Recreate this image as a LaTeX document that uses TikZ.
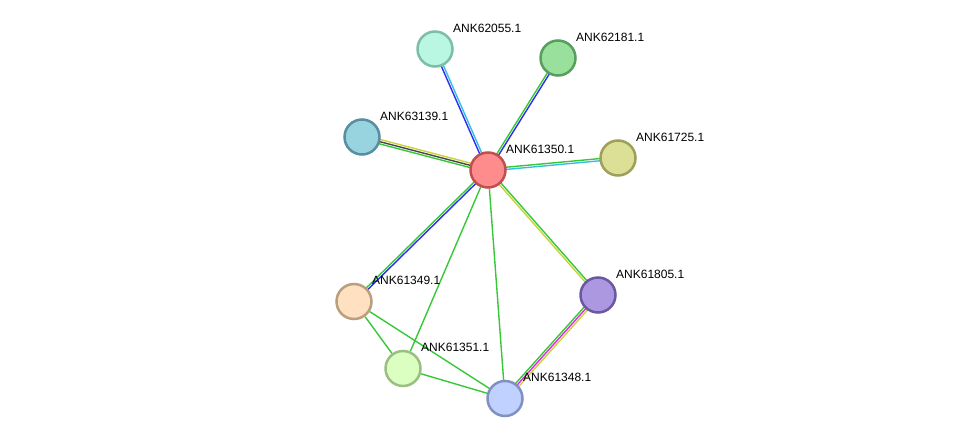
\documentclass[tikz,border=0pt]{standalone}
\usepackage{fontspec}
\setmainfont{Liberation Sans}
\usetikzlibrary{calc,backgrounds}
\definecolor{egreen}{RGB}{55,200,55}
\definecolor{eblue}{RGB}{45,45,240}
\definecolor{ecyan}{RGB}{55,190,230}
\definecolor{eyellow}{RGB}{200,210,60}
\definecolor{egray}{RGB}{70,70,70}
\definecolor{emag}{RGB}{230,40,230}
\tikzset{
  prot/.style={circle, minimum size=35pt, inner sep=0pt, line width=2.5pt},
  lbl/.style={anchor=west, inner sep=0pt, font=\fontsize{12pt}{12pt}\selectfont},
  edge/.style={line width=1.4pt},
}
\newcommand{\pline}[4]{% color, offset, from, to
  \draw[edge,#1] ($(#3)!#2!90:(#4)$) -- ($(#4)!#2!-90:(#3)$);}
\begin{document}
\begin{tikzpicture}[x=1pt,y=-1pt]
\useasboundingbox (0,0) rectangle (976,444);
\node[prot, fill={rgb,255:red,255;green,140;blue,140}, draw={rgb,255:red,192;green,80;blue,80}] (c) at (488,170) {};
\node[prot, fill={rgb,255:red,185;green,247;blue,226}, draw={rgb,255:red,125;green,190;blue,168}] (n62055) at (435,49) {};
\node[prot, fill={rgb,255:red,152;green,224;blue,156}, draw={rgb,255:red,88;green,158;blue,94}] (n62181) at (558,58) {};
\node[prot, fill={rgb,255:red,152;green,211;blue,224}, draw={rgb,255:red,88;green,142;blue,160}] (n63139) at (362,137) {};
\node[prot, fill={rgb,255:red,220;green,223;blue,150}, draw={rgb,255:red,158;green,160;blue,90}] (n61725) at (618,158) {};
\node[prot, fill={rgb,255:red,255;green,224;blue,192}, draw={rgb,255:red,184;green,159;blue,126}] (n61349) at (354,301.5) {};
\node[prot, fill={rgb,255:red,171;green,152;blue,224}, draw={rgb,255:red,106;green,88;blue,160}] (n61805) at (598,295) {};
\node[prot, fill={rgb,255:red,219;green,255;blue,192}, draw={rgb,255:red,155;green,191;blue,128}] (n61351) at (403,368.5) {};
\node[prot, fill={rgb,255:red,192;green,208;blue,255}, draw={rgb,255:red,128;green,144;blue,192}] (n61348) at (505,398.5) {};

\node[lbl] (l0) at ($(c)+(18,-21)$) {ANK61350.1};
\node[lbl] (l1) at ($(n62055)+(18,-21)$) {ANK62055.1};
\node[lbl] (l2) at ($(n62181)+(18,-21)$) {ANK62181.1};
\node[lbl] (l3) at ($(n63139)+(18,-21)$) {ANK63139.1};
\node[lbl] (l4) at ($(n61725)+(18,-21)$) {ANK61725.1};
\node[lbl] (l5) at ($(n61349)+(18,-21)$) {ANK61349.1};
\node[lbl] (l6) at ($(n61805)+(18,-21)$) {ANK61805.1};
\node[lbl] (l7) at ($(n61351)+(18,-21)$) {ANK61351.1};
\node[lbl] (l8) at ($(n61348)+(18,-21)$) {ANK61348.1};

\begin{pgfonlayer}{background}
\pline{eblue}{1.1pt}{c}{n62055}
\pline{ecyan}{-1.1pt}{c}{n62055}
\pline{egreen}{1.1pt}{c}{n62181}
\pline{eblue}{-1.1pt}{c}{n62181}
\pline{egreen}{2.2pt}{c}{n63139}
\pline{egray}{0pt}{c}{n63139}
\pline{eyellow}{-2.2pt}{c}{n63139}
\pline{egreen}{1.1pt}{c}{n61725}
\pline{ecyan}{-1.1pt}{c}{n61725}
\pline{eblue}{1.1pt}{c}{n61349}
\pline{egreen}{-1.1pt}{c}{n61349}
\pline{egreen}{1.1pt}{c}{n61805}
\pline{eyellow}{-1.1pt}{c}{n61805}
\pline{eyellow}{2.2pt}{n61805}{n61348}
\pline{emag}{0pt}{n61805}{n61348}
\pline{egreen}{-2.2pt}{n61805}{n61348}
\draw[edge,egreen] (c) -- (n61351);
\draw[edge,egreen] (c) -- (n61348);
\draw[edge,egreen] (n61349) -- (n61351);
\draw[edge,egreen] (n61349) -- (n61348);
\draw[edge,egreen] (n61351) -- (n61348);
\end{pgfonlayer}
\end{tikzpicture}
\end{document}
